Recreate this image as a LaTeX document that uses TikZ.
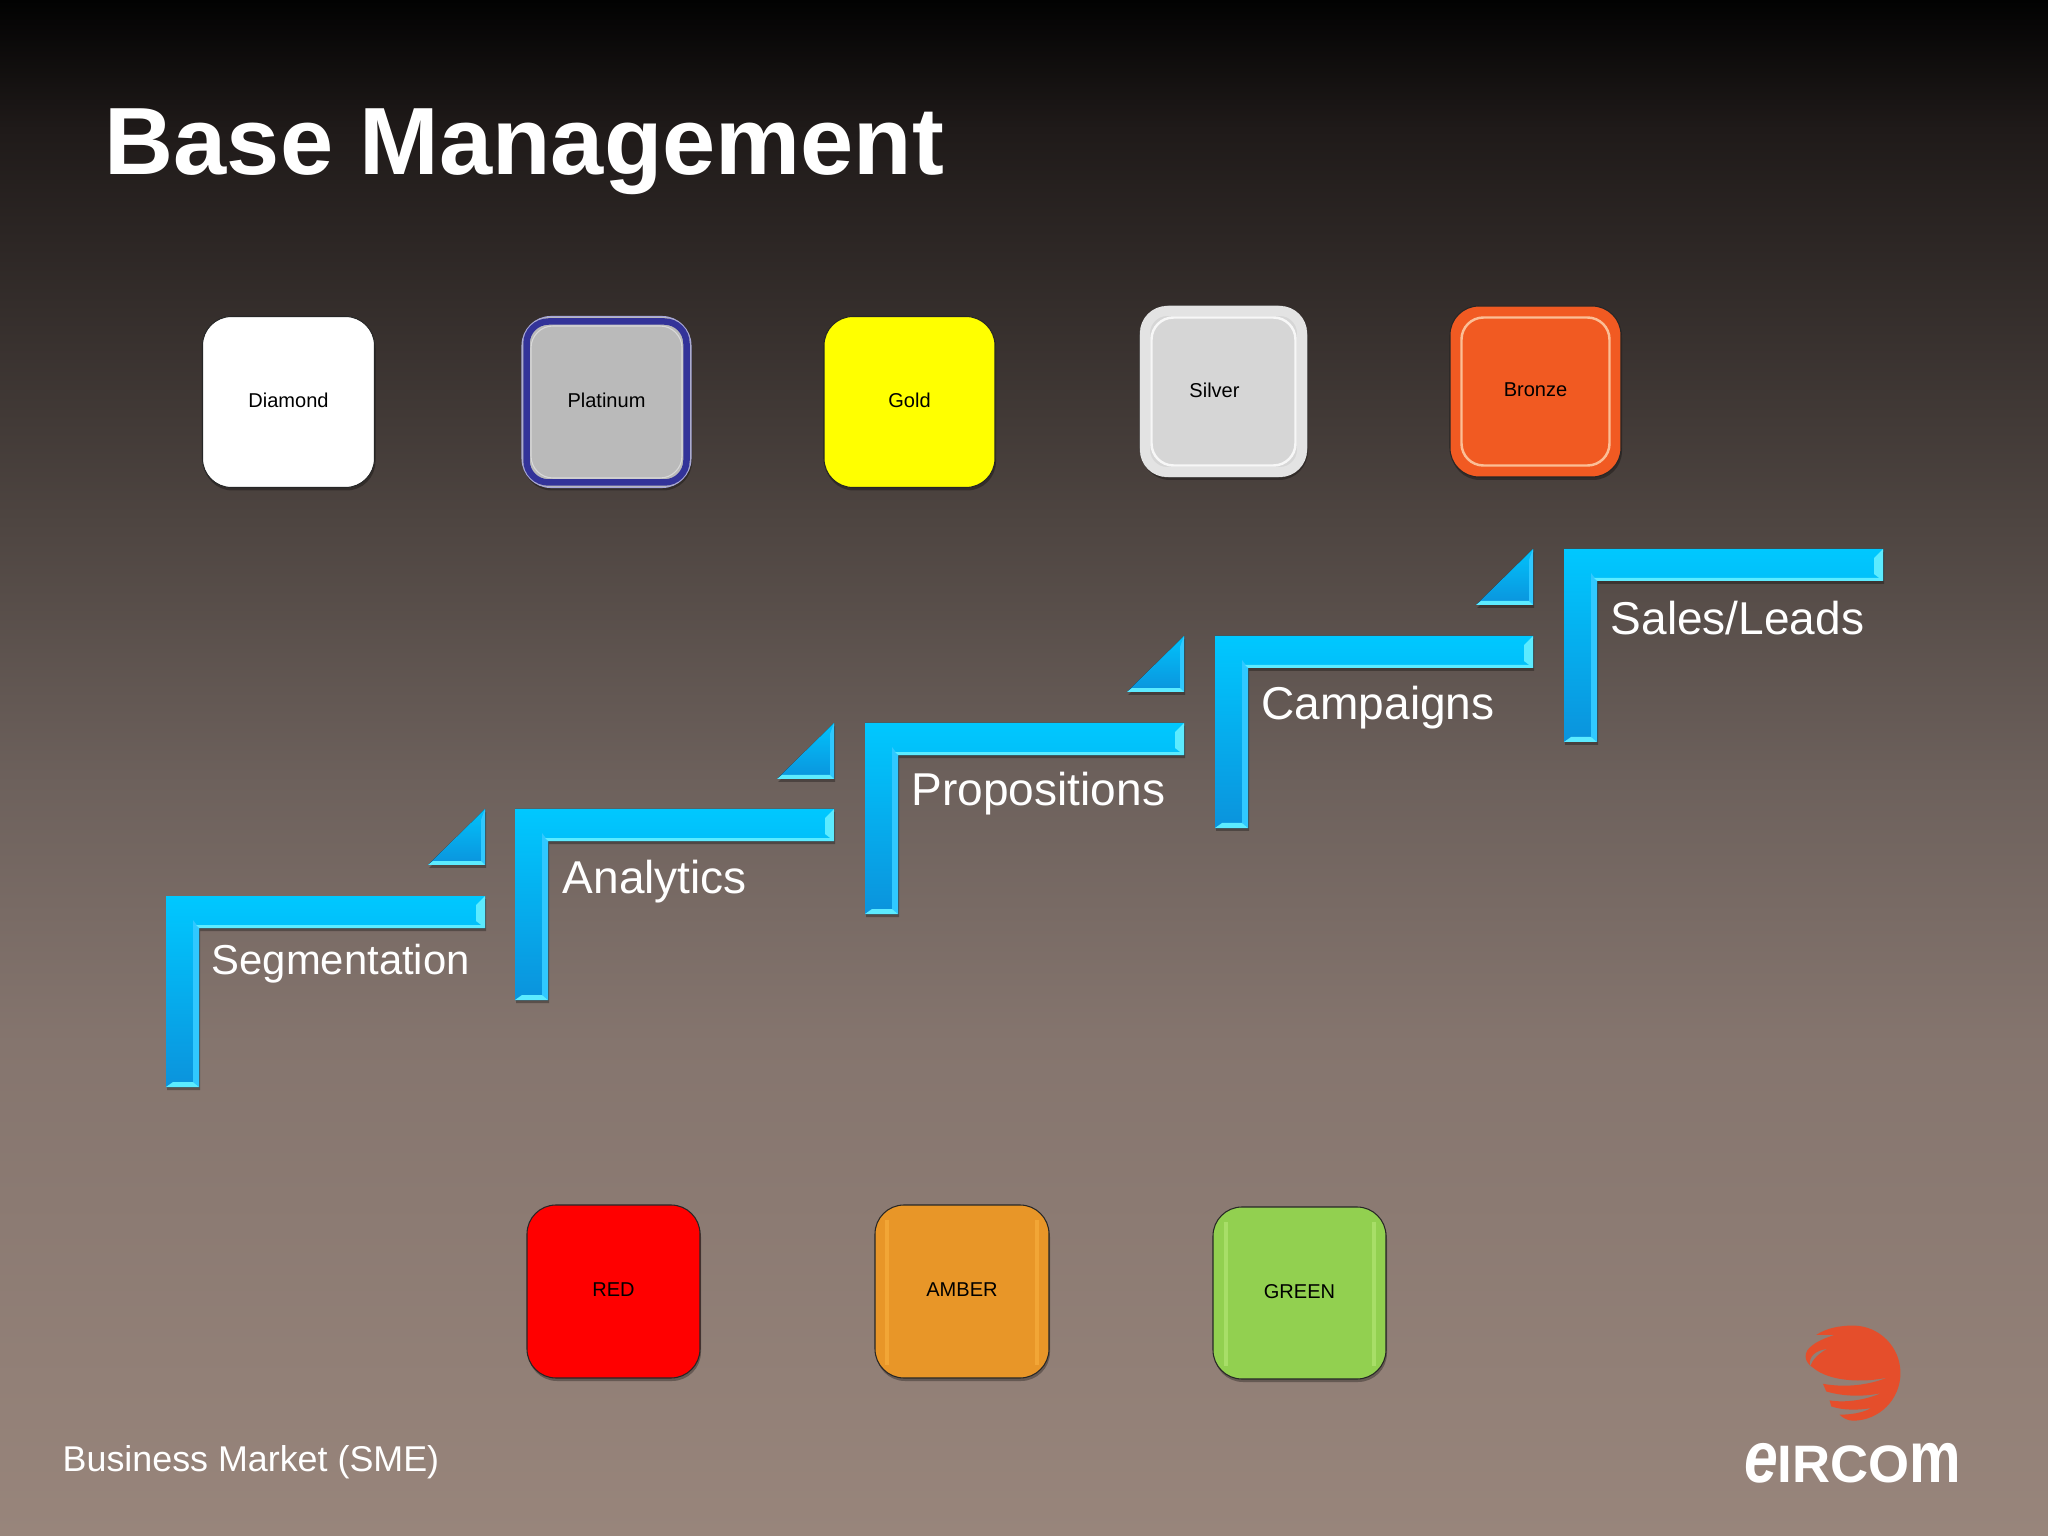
\documentclass[tikz,border=0pt]{standalone}
\usepackage{fontspec}
\usepackage{xcolor}
\setmainfont{Liberation Sans}
\usetikzlibrary{shadows}
\definecolor{bgtop}{HTML}{020202}
\definecolor{bgone}{HTML}{1F1A19}
\definecolor{bgtwo}{HTML}{4E4541}
\definecolor{bgthree}{HTML}{6D615C}
\definecolor{bgfour}{HTML}{85756E}
\definecolor{bgbot}{HTML}{98857B}
\definecolor{barhigh}{HTML}{00C8FF}
\definecolor{barlow}{HTML}{0B93DC}
\definecolor{edgelight}{HTML}{5CEBFF}
\definecolor{edgesoft}{HTML}{30C8FF}
\definecolor{logored}{HTML}{E54E2B}
\definecolor{platinumblue}{HTML}{333399}
\definecolor{platinumedge}{HTML}{A6A6D8}
\definecolor{goldfill}{HTML}{FFFF00}
\definecolor{bronzefill}{HTML}{F15A22}
\definecolor{bronzering}{HTML}{FBBE96}
\definecolor{amberfill}{HTML}{E89628}
\definecolor{amberstrip}{HTML}{F2A636}
\definecolor{greenfill}{HTML}{92D050}
\definecolor{greenstrip}{HTML}{A8DE68}
\pgfdeclareverticalshading{basebg}{100bp}{color(0bp)=(bgbot); color(25bp)=(bgbot); color(41bp)=(bgfour); color(49.5bp)=(bgthree); color(58bp)=(bgtwo); color(70.8bp)=(bgone); color(75bp)=(bgtop); color(100bp)=(bgtop)}
\tikzset{
  softshadow/.style={drop shadow={shadow xshift=.01cm,shadow yshift=-.03cm,opacity=.3,fill=black}},
  stepbar/.style={top color=barhigh,bottom color=barlow,softshadow},
  arrowbar/.style={top color=barhigh!90!barlow,bottom color=barlow,softshadow},
  stepedge/.style={fill=edgelight},
  stepside/.style={fill=edgesoft},
  tier/.style={draw=black!85,line width=.3pt,rounded corners=.29cm,inner sep=0pt,outer sep=0pt,minimum height=1.71cm,text depth=.03cm,softshadow,font=\fontsize{5.7}{7}\selectfont,text=black},
  tierring/.style={rounded corners=.22cm},
  steplabel/.style={anchor=base west,inner sep=0pt,text=white,font=\fontsize{13.1}{16}\selectfont}
}
\begin{document}
\begin{tikzpicture}[x=1cm,y=1cm]
\useasboundingbox (0,0) rectangle (20.48,-15.36);
\shade[shading=basebg] (0,0) rectangle (20.48,-15.36);
\node[anchor=base west,inner sep=0pt,text=white,font=\fontsize{27.2}{32}\selectfont\bfseries] (title) at (1.04,-1.75) {Base Management};
\node[tier,fill=white,minimum width=1.72cm] (diamond) at (2.885,-4.02) {Diamond};
\node[tier,draw=platinumedge,fill=black!27!white,minimum width=1.69cm] (platinum) at (6.065,-4.02) {Platinum};
\draw[tierring,draw=platinumblue,line width=.065cm] (5.265,-3.215) rectangle (6.865,-4.825);
\draw[tierring,draw=black!15!white,line width=.3pt] (5.31,-3.26) rectangle (6.82,-4.78);
\node[tier,draw=black!60,fill=black!16!white,minimum width=1.67cm] (silver) at (12.235,-3.915) {Silver\hspace*{.18cm}};
\draw[tierring,draw=black!11!white,line width=.1cm] (11.45,-3.11) rectangle (13.02,-4.72);
\draw[tierring,draw=black!3!white,line width=.7pt] (11.515,-3.175) rectangle (12.955,-4.655);
\node[tier,fill=goldfill,minimum width=1.71cm] (gold) at (9.095,-4.02) {Gold};
\node[tier,fill=bronzefill,minimum width=1.71cm] (bronze) at (15.355,-3.915) {Bronze};
\draw[tierring,draw=bronzering,line width=.7pt] (14.615,-3.175) rectangle (16.095,-4.655);
\fill[arrowbar] (4.85,-8.09) -- (4.85,-8.65) -- (4.28,-8.65) -- cycle;
\fill[stepside] (4.85,-8.09) -- (4.85,-8.65) -- (4.81,-8.61) -- (4.81,-8.20) -- cycle;
\fill[stepedge] (4.28,-8.65) -- (4.85,-8.65) -- (4.81,-8.61) -- (4.33,-8.61) -- cycle;
\fill[arrowbar] (8.34,-7.23) -- (8.34,-7.79) -- (7.77,-7.79) -- cycle;
\fill[stepside] (8.34,-7.23) -- (8.34,-7.79) -- (8.30,-7.75) -- (8.30,-7.34) -- cycle;
\fill[stepedge] (7.77,-7.79) -- (8.34,-7.79) -- (8.30,-7.75) -- (7.82,-7.75) -- cycle;
\fill[arrowbar] (11.84,-6.36) -- (11.84,-6.92) -- (11.27,-6.92) -- cycle;
\fill[stepside] (11.84,-6.36) -- (11.84,-6.92) -- (11.80,-6.88) -- (11.80,-6.47) -- cycle;
\fill[stepedge] (11.27,-6.92) -- (11.84,-6.92) -- (11.80,-6.88) -- (11.32,-6.88) -- cycle;
\fill[arrowbar] (15.33,-5.49) -- (15.33,-6.05) -- (14.76,-6.05) -- cycle;
\fill[stepside] (15.33,-5.49) -- (15.33,-6.05) -- (15.29,-6.01) -- (15.29,-5.60) -- cycle;
\fill[stepedge] (14.76,-6.05) -- (15.33,-6.05) -- (15.29,-6.01) -- (14.81,-6.01) -- cycle;
\fill[stepbar] (1.66,-8.96) -- (4.85,-8.96) -- (4.85,-9.28) -- (1.99,-9.28) -- (1.99,-10.87) -- (1.66,-10.87) -- cycle;
\fill[stepside] (1.93,-9.20) -- (1.99,-9.28) -- (1.99,-10.87) -- (1.93,-10.82) -- cycle;
\fill[stepedge] (1.96,-9.25) -- (4.82,-9.25) -- (4.85,-9.28) -- (1.99,-9.28) -- cycle;
\fill[stepedge] (4.76,-9.05) -- (4.85,-8.96) -- (4.85,-9.28) -- (4.76,-9.21) -- cycle;
\fill[stepedge] (1.66,-10.87) -- (1.99,-10.87) -- (1.93,-10.82) -- (1.73,-10.82) -- cycle;
\node[steplabel,font=\fontsize{11.9}{14}\selectfont] (segmentation) at (2.11,-9.74) {Segmentation};
\fill[stepbar] (5.15,-8.09) -- (8.34,-8.09) -- (8.34,-8.41) -- (5.48,-8.41) -- (5.48,-10.00) -- (5.15,-10.00) -- cycle;
\fill[stepside] (5.42,-8.33) -- (5.48,-8.41) -- (5.48,-10.00) -- (5.42,-9.95) -- cycle;
\fill[stepedge] (5.45,-8.38) -- (8.31,-8.38) -- (8.34,-8.41) -- (5.48,-8.41) -- cycle;
\fill[stepedge] (8.25,-8.18) -- (8.34,-8.09) -- (8.34,-8.41) -- (8.25,-8.34) -- cycle;
\fill[stepedge] (5.15,-10.00) -- (5.48,-10.00) -- (5.42,-9.95) -- (5.22,-9.95) -- cycle;
\node[steplabel] (analytics) at (5.62,-8.93) {Analytics};
\fill[stepbar] (8.65,-7.23) -- (11.84,-7.23) -- (11.84,-7.55) -- (8.98,-7.55) -- (8.98,-9.14) -- (8.65,-9.14) -- cycle;
\fill[stepside] (8.92,-7.47) -- (8.98,-7.55) -- (8.98,-9.14) -- (8.92,-9.09) -- cycle;
\fill[stepedge] (8.95,-7.52) -- (11.81,-7.52) -- (11.84,-7.55) -- (8.98,-7.55) -- cycle;
\fill[stepedge] (11.75,-7.32) -- (11.84,-7.23) -- (11.84,-7.55) -- (11.75,-7.48) -- cycle;
\fill[stepedge] (8.65,-9.14) -- (8.98,-9.14) -- (8.92,-9.09) -- (8.72,-9.09) -- cycle;
\node[steplabel] (propositions) at (9.11,-8.06) {Propositions};
\fill[stepbar] (12.15,-6.36) -- (15.33,-6.36) -- (15.33,-6.68) -- (12.48,-6.68) -- (12.48,-8.28) -- (12.15,-8.28) -- cycle;
\fill[stepside] (12.42,-6.60) -- (12.48,-6.68) -- (12.48,-8.28) -- (12.42,-8.23) -- cycle;
\fill[stepedge] (12.45,-6.65) -- (15.30,-6.65) -- (15.33,-6.68) -- (12.48,-6.68) -- cycle;
\fill[stepedge] (15.24,-6.45) -- (15.33,-6.36) -- (15.33,-6.68) -- (15.24,-6.61) -- cycle;
\fill[stepedge] (12.15,-8.28) -- (12.48,-8.28) -- (12.42,-8.23) -- (12.22,-8.23) -- cycle;
\node[steplabel] (campaigns) at (12.61,-7.20) {Campaigns};
\fill[stepbar] (15.64,-5.49) -- (18.83,-5.49) -- (18.83,-5.81) -- (15.97,-5.81) -- (15.97,-7.42) -- (15.64,-7.42) -- cycle;
\fill[stepside] (15.91,-5.73) -- (15.97,-5.81) -- (15.97,-7.42) -- (15.91,-7.37) -- cycle;
\fill[stepedge] (15.94,-5.78) -- (18.80,-5.78) -- (18.83,-5.81) -- (15.97,-5.81) -- cycle;
\fill[stepedge] (18.74,-5.58) -- (18.83,-5.49) -- (18.83,-5.81) -- (18.74,-5.74) -- cycle;
\fill[stepedge] (15.64,-7.42) -- (15.97,-7.42) -- (15.91,-7.37) -- (15.71,-7.37) -- cycle;
\node[steplabel] (salesleads) at (16.10,-6.34) {Sales/Leads};
\node[tier,fill=red,minimum width=1.73cm,minimum height=1.73cm] (red) at (6.135,-12.915) {RED};
\node[tier,fill=amberfill,minimum width=1.74cm,minimum height=1.73cm] (amber) at (9.62,-12.915) {AMBER};
\draw[draw=amberstrip,line width=1pt] (8.87,-12.20) -- (8.87,-13.65);
\draw[draw=amberstrip,line width=1pt] (10.37,-12.20) -- (10.37,-13.65);
\node[tier,fill=greenfill,minimum width=1.73cm,minimum height=1.72cm] (green) at (12.995,-12.93) {GREEN};
\draw[draw=greenstrip,line width=1pt] (12.26,-12.22) -- (12.26,-13.66);
\draw[draw=greenstrip,line width=1pt] (13.74,-12.22) -- (13.74,-13.66);
\node[anchor=base west,inner sep=0pt,text=white,font=\fontsize{10.2}{12}\selectfont] (market) at (0.62,-14.71) {Business Market (SME)};
\begin{scope}[shift={(16.5,-12.8)},x=0.003333cm,y=-0.003333cm]
\fill[logored] (610,137) arc[start angle=-90,end angle=90,radius=143] .. controls (595,423) and (580,415) .. (570,405) .. controls (600,405) and (640,400) .. (665,385) .. controls (625,392) and (580,392) .. (545,380) -- (540,362) .. controls (590,370) and (650,360) .. (695,340) .. controls (640,352) and (580,350) .. (530,335) -- (520,312) .. controls (590,325) and (660,315) .. (715,293) .. controls (640,310) and (540,305) .. (492,265) .. controls (460,245) and (460,215) .. (490,195) .. controls (510,180) and (535,172) .. (555,165) .. controls (535,165) and (515,165) .. (500,165) .. controls (530,145) and (570,137) .. (610,137) -- cycle;
\fill[bgfour!35!bgbot] (530,208) .. controls (500,212) and (475,230) .. (482,258) .. controls (488,240) and (505,222) .. (530,208) -- cycle;
\end{scope}
\node[anchor=base east,inner sep=0pt,text=white,font=\fontsize{15}{18}\selectfont\bfseries] (eircom) at (19.62,-14.82) {\scalebox{1.15}[1.38]{\textit{e}}IRCO\scalebox{1.1}[1.38]{m}};
\end{tikzpicture}
\end{document}
